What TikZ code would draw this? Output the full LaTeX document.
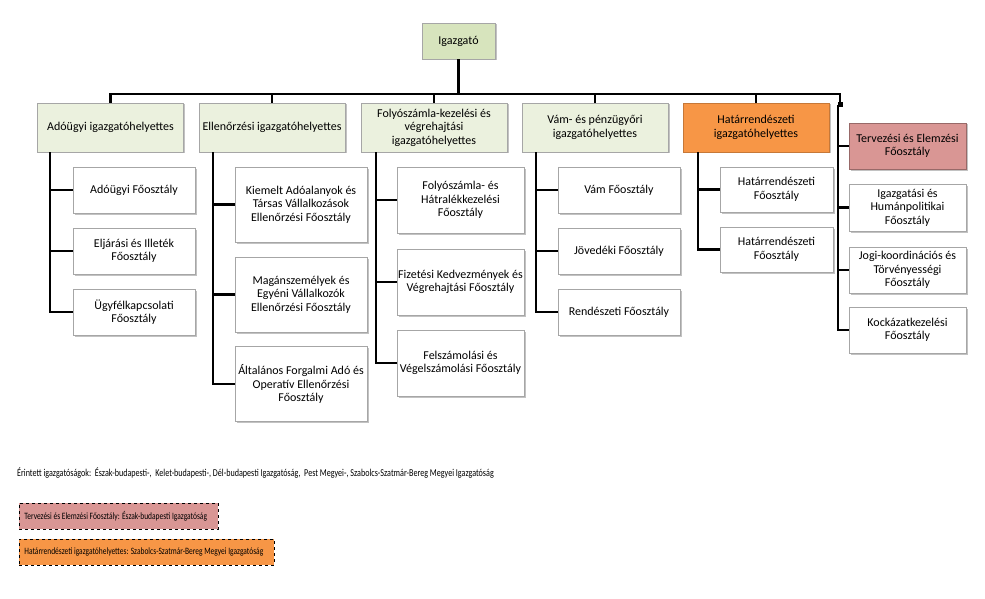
\documentclass[tikz,border=0pt]{standalone}
\usepackage{fontspec}
\setmainfont{Carlito}
\newfontfamily\narrowfont[FakeStretch=0.77]{Carlito}
\usetikzlibrary{shadows}
\definecolor{topgreen}{HTML}{D7E4BD}
\definecolor{depgreen}{HTML}{EBF1DE}
\definecolor{hrorange}{HTML}{F79646}
\definecolor{tepink}{HTML}{D99694}
\tikzstyle{conn} = [draw, line width=2.2pt]
\tikzstyle{unit} = [rectangle, draw=black!35, line width=0.7pt, fill=white, align=center, inner sep=0pt, font=\fontsize{12}{13.5}\selectfont, drop shadow={shadow xshift=1.5pt, shadow yshift=-1.5pt, fill=black!40, opacity=0.6}]
\tikzstyle{boss} = [unit, fill=topgreen, minimum width=73pt, minimum height=36pt]
\tikzstyle{deputy} = [unit, fill=depgreen, minimum width=146pt, minimum height=49pt]
\tikzstyle{note} = [rectangle, draw, dashed, line width=0.8pt, anchor=west, minimum height=26pt, inner xsep=5pt, font=\narrowfont\fontsize{9.7}{10}\selectfont]
\begin{document}
\begin{tikzpicture}[x=1pt, y=-1pt]
	\useasboundingbox (0,0) rectangle (985,599);
	
	\node [boss] (igazgato) at (458.5,41) {Igazgató};
	\coordinate (bus) at (458.5,94);
	\path [conn] (igazgato.south) to (bus);
	
	
	\node [deputy] (adougyi) at (110.5,127.5) {Adóügyi igazgatóhelyettes};
	\node [deputy] (ellenorz) at (272,127.5) {Ellenőrzési igazgatóhelyettes};
	\node [deputy] (folyo) at (434,127.5) {Folyószámla-kezelési és\\végrehajtási\\igazgatóhelyettes};
	\node [deputy] (vam) at (595,127.5) {Vám- és pénzügyőri\\igazgatóhelyettes};
	\node [deputy, fill=hrorange, draw=hrorange!80!black] (hatar) at (756,127.5) {Határrendészeti\\igazgatóhelyettes};
	\coordinate (jobb) at (840,105);
	
	\path [conn] (bus) -| (adougyi.north);
	\path [conn] (bus) -| (ellenorz.north);
	\path [conn] (bus) -| (folyo.north);
	\path [conn] (bus) -| (vam.north);
	\path [conn] (bus) -| (hatar.north);
	\path [conn] (bus) -| (jobb);
	\fill (jobb) ++(-2.5,-2.5) rectangle ++(5,5);
	
	
	% Adougyi
	\node [unit, minimum width=122pt, minimum height=46pt] (ad1) at (134,190) {Adóügyi Főosztály};
	\node [unit, minimum width=122pt, minimum height=46pt] (ad2) at (134,251) {Eljárási és Illeték\\Főosztály};
	\node [unit, minimum width=122pt, minimum height=46pt] (ad3) at (134,312) {Ügyfélkapcsolati\\Főosztály};
	\coordinate (adt) at ([xshift=13pt]adougyi.south west);
	\path [conn] (adt) |- (ad1.west);
	\path [conn] (adt) |- (ad2.west);
	\path [conn] (adt) |- (ad3.west);
	
	
	% Ellenorzesi
	\node [unit, minimum width=132pt, minimum height=75pt] (el1) at (301,204.5) {Kiemelt Adóalanyok és\\Társas Vállalkozások\\Ellenőrzési Főosztály};
	\node [unit, minimum width=132pt, minimum height=75pt] (el2) at (301,294.5) {Magánszemélyek és\\Egyéni Vállalkozók\\Ellenőrzési Főosztály};
	\node [unit, minimum width=132pt, minimum height=75pt] (el3) at (301,384) {Általános Forgalmi Adó és\\Operatív Ellenőrzési\\Főosztály};
	\coordinate (elt) at ([xshift=14pt]ellenorz.south west);
	\path [conn] (elt) |- (el1.west);
	\path [conn] (elt) |- (el2.west);
	\path [conn] (elt) |- (el3.west);
	
	
	% Folyoszamla
	\node [unit, minimum width=127pt, minimum height=66pt] (fo1) at (460.5,200) {Folyószámla- és\\Hátralékkezelési\\Főosztály};
	\node [unit, minimum width=127pt, minimum height=66pt] (fo2) at (460.5,282) {Fizetési Kedvezmények és\\Végrehajtási Főosztály};
	\node [unit, minimum width=127pt, minimum height=66pt] (fo3) at (460.5,363) {Felszámolási és\\Végelszámolási Főosztály};
	\coordinate (fot) at ([xshift=15pt]folyo.south west);
	\path [conn] (fot) |- (fo1.west);
	\path [conn] (fot) |- (fo2.west);
	\path [conn] (fot) |- (fo3.west);
	
	
	% Vam
	\node [unit, minimum width=122pt, minimum height=46pt] (va1) at (619,190) {Vám Főosztály};
	\node [unit, minimum width=122pt, minimum height=46pt] (va2) at (619,251) {Jövedéki Főosztály};
	\node [unit, minimum width=122pt, minimum height=46pt] (va3) at (619,312) {Rendészeti Főosztály};
	\coordinate (vat) at ([xshift=14pt]vam.south west);
	\path [conn] (vat) |- (va1.west);
	\path [conn] (vat) |- (va2.west);
	\path [conn] (vat) |- (va3.west);
	
	
	% Hatarrendeszet
	\node [unit, minimum width=113pt, minimum height=45pt] (hr1) at (776.5,189.5) {Határrendészeti\\Főosztály};
	\node [unit, minimum width=113pt, minimum height=45pt] (hr2) at (776.5,249.5) {Határrendészeti\\Főosztály};
	\coordinate (hrt) at ([xshift=15pt]hatar.south west);
	\path [conn] (hrt) |- (hr1.west);
	\path [conn] (hrt) |- (hr2.west);
	
	
	% kozvetlenul az igazgato alatt
	\node [unit, fill=tepink, draw=tepink!70!black, minimum width=117pt, minimum height=46pt] (terv) at (907.5,146) {Tervezési és Elemzési\\Főosztály};
	\node [unit, minimum width=117pt, minimum height=47pt] (igh) at (907.5,207.5) {Igazgatási és\\Humánpolitikai\\Főosztály};
	\node [unit, minimum width=117pt, minimum height=46pt] (jogi) at (907.5,270) {Jogi-koordinációs és\\Törvényességi\\Főosztály};
	\node [unit, minimum width=117pt, minimum height=46pt] (kock) at (907.5,330) {Kockázatkezelési\\Főosztály};
	\coordinate (jt) at (838,105);
	\path [conn] (jt) |- (terv.west);
	\path [conn] (jt) |- (igh.west);
	\path [conn] (jt) |- (jogi.west);
	\path [conn] (jt) |- (kock.west);
	
	
	\node [anchor=west, inner sep=0pt, font=\narrowfont\fontsize{10.5}{11}\selectfont] (erintett) at (17,473) {Érintett igazgatóságok:\ \ Észak-budapesti-,\ \ Kelet-budapesti-, Dél-budapesti Igazgatóság,\ \ Pest Megyei-, Szabolcs-Szatmár-Bereg Megyei Igazgatóság};
	\node [note, fill=tepink] (notea) at (19,516) {\makebox[189pt][l]{Tervezési és Elemzési Főosztály: Észak-budapesti Igazgatóság}};
	\node [note, fill=hrorange] (noteb) at (19,552) {\makebox[245pt][l]{Határrendészeti igazgatóhelyettes: Szabolcs-Szatmár-Bereg Megyei Igazgatóság}};
\end{tikzpicture}
\end{document}
